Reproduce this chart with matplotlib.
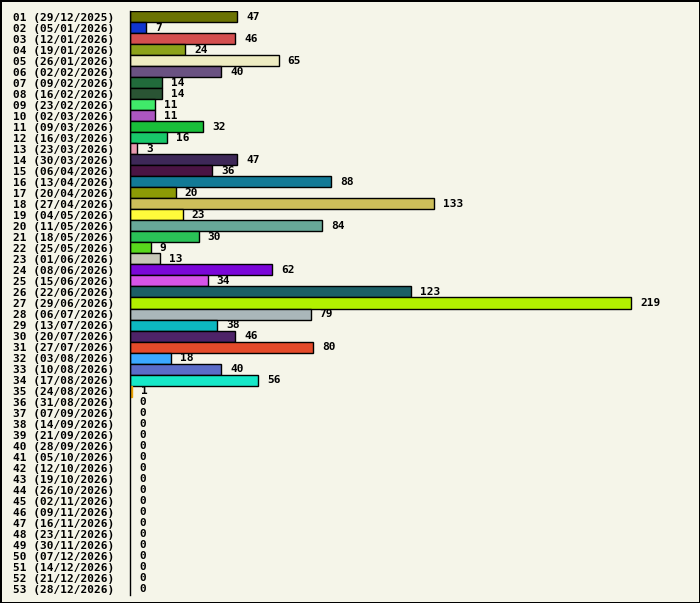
import matplotlib
matplotlib.use("Agg")
import matplotlib.pyplot as plt

weeks = ["%02d" % i for i in range(1, 54)]
dates = [
    "29/12/2025", "05/01/2026", "12/01/2026", "19/01/2026", "26/01/2026",
    "02/02/2026", "09/02/2026", "16/02/2026", "23/02/2026", "02/03/2026",
    "09/03/2026", "16/03/2026", "23/03/2026", "30/03/2026", "06/04/2026",
    "13/04/2026", "20/04/2026", "27/04/2026", "04/05/2026", "11/05/2026",
    "18/05/2026", "25/05/2026", "01/06/2026", "08/06/2026", "15/06/2026",
    "22/06/2026", "29/06/2026", "06/07/2026", "13/07/2026", "20/07/2026",
    "27/07/2026", "03/08/2026", "10/08/2026", "17/08/2026", "24/08/2026",
    "31/08/2026", "07/09/2026", "14/09/2026", "21/09/2026", "28/09/2026",
    "05/10/2026", "12/10/2026", "19/10/2026", "26/10/2026", "02/11/2026",
    "09/11/2026", "16/11/2026", "23/11/2026", "30/11/2026", "07/12/2026",
    "14/12/2026", "21/12/2026", "28/12/2026",
]
values = [47, 7, 46, 24, 65, 40, 14, 14, 11, 11, 32, 16, 3, 47, 36, 88, 20,
          133, 23, 84, 30, 9, 13, 62, 34, 123, 219, 79, 38, 46, 80, 18, 40,
          56, 1] + [0] * 18
colors = [
    "#6b7302", "#1035d0", "#d44f4f", "#8ca21a", "#eeecc2", "#6a5282",
    "#216b3b", "#2a5434", "#40ea6a", "#ac56c0", "#19bf3a", "#18c86a",
    "#e89ab0", "#3e2858", "#4b1444", "#127a96", "#8c9a05", "#cdbf5a",
    "#fffb3b", "#68a898", "#2ac257", "#58d81c", "#c8c8b8", "#7b06d8",
    "#d654e8", "#1c5f66", "#b2f000", "#aab7ba", "#0db8c0", "#4e2368",
    "#e44a2a", "#3ba8ff", "#5b6cc8", "#16e8c8", "#e8a000",
] + ["#f5f5e8"] * 18

labels = ["%s (%s)" % (w, d) for w, d in zip(weeks, dates)]
bg = "#f5f5e9"

fig = plt.figure(figsize=(7, 6.03), dpi=100)
fig.patch.set_facecolor(bg)
fig.patch.set_edgecolor("black")
fig.patch.set_linewidth(2)

ax = fig.add_axes([130 / 700, 1 - 595 / 603, 560 / 700, 584 / 603])
ax.set_facecolor(bg)
pos = list(range(len(values)))
bars = ax.barh(pos, values, height=1.0, color=colors, edgecolor="black",
               linewidth=1)
for b, v, c in zip(bars, values, colors):
    if v == 0:
        b.set_visible(False)
    elif v < 2:
        # too thin for a black outline, the fill shows on its own
        b.set_edgecolor(c)

font = dict(family="DejaVu Sans Mono", weight="bold", size=8)
for p, v in zip(pos, values):
    ax.annotate(str(v), (v, p), xytext=(6.5, 0), textcoords="offset points",
                va="center", ha="left", **font)

ax.set_xlim(0, 560 / 2.287)
ax.set_ylim(len(values) - 0.5, -0.5)
ax.set_yticks(pos)
ax.set_yticklabels(labels, **font)
ax.tick_params(axis="y", length=0, pad=11.5)
ax.set_xticks([])
for s in ["top", "right", "bottom"]:
    ax.spines[s].set_visible(False)
ax.spines["left"].set_linewidth(1)

fig.savefig("out.png", dpi=100, facecolor=bg, edgecolor="black")
